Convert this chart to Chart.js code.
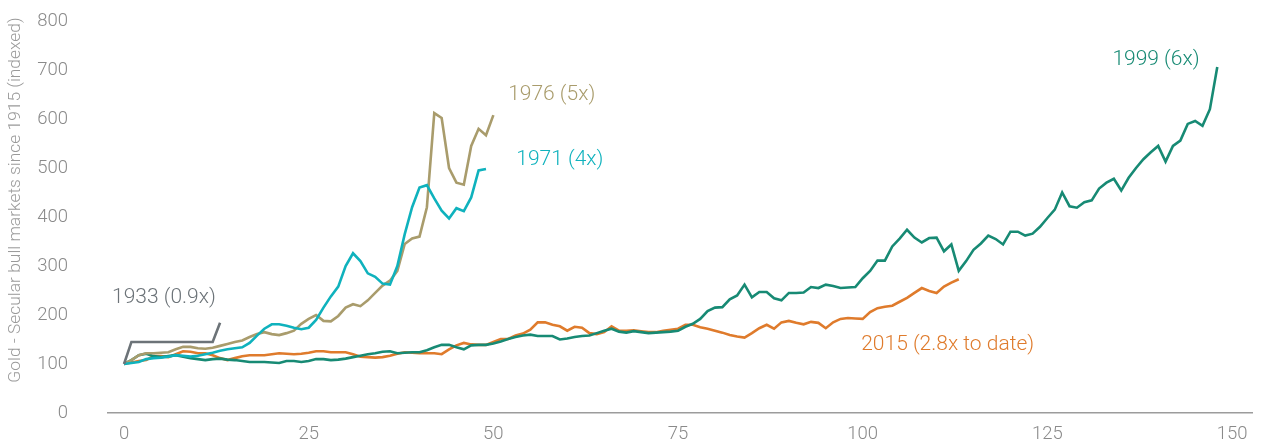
<!DOCTYPE html>
<html>
<head>
<meta charset="utf-8">
<script src="https://cdn.jsdelivr.net/npm/chart.js@4/dist/chart.umd.min.js"></script>
<style>
  html, body { margin: 0; padding: 0; background: #fff; }
  #wrap { width: 1272px; height: 444px; }
</style>
</head>
<body>
<div id="wrap"><canvas id="chart"></canvas></div>
<script>
// months since start of each secular bull market, gold indexed to 100
const bull1933 = [100, 145, 145, 145, 145, 145, 145, 145, 145, 145, 145, 145, 145, 184];

const bull1971 = [
  100, 102, 104, 110, 112, 113, 115, 118, 117, 115,
  117, 120, 123, 127, 130, 132, 134, 143, 158, 172,
  181, 181, 178, 174, 171, 174, 190, 215, 238, 258,
  300, 326, 310, 285, 278, 264, 262, 300, 365, 420,
  460, 465, 438, 413, 397, 418, 412, 440, 495, 498
];

const bull1976 = [
  100, 108, 118, 122, 122, 123, 124, 130, 135, 135,
  132, 131, 133, 137, 141, 145, 148, 155, 161, 165,
  161, 159, 163, 168, 182, 192, 200, 188, 187, 198,
  215, 222, 218, 230, 245, 260, 270, 290, 345, 356,
  360, 420, 612, 602, 500, 470, 466, 545, 580, 567,
  608
];

const bull1999 = [
  100, 108, 118, 121, 116, 114, 116, 118, 115, 112,
  110, 108, 110, 111, 109, 108, 106, 104, 104, 104,
  103, 102, 106, 106, 104, 106, 110, 110, 108, 109,
  111, 114, 117, 120, 122, 125, 126, 122, 123, 124,
  124, 128, 134, 139, 139, 134, 130, 138, 139, 139,
  142, 146, 151, 155, 158, 160, 157, 157, 157, 150,
  152, 155, 157, 158, 163, 168, 172, 166, 164, 167,
  165, 163, 164, 165, 166, 168, 176, 182, 192, 208,
  215, 216, 232, 240, 262, 236, 247, 247, 234, 230,
  245, 245, 246, 257, 255, 262, 259, 255, 256, 257,
  275, 290, 311, 311, 340, 356, 374, 358, 348, 357,
  358, 330, 344, 290, 310, 333, 346, 362, 355, 344,
  370, 370, 362, 366, 380, 398, 415, 450, 422, 419,
  430, 434, 458, 470, 478, 454, 480, 500, 518, 532,
  545, 513, 545, 556, 590, 596, 586, 620, 706
];

const bull2015 = [
  100, 103, 106, 108, 116, 116, 114, 120, 126, 125,
  122, 122, 118, 112, 108, 112, 116, 118, 118, 118,
  120, 122, 121, 120, 121, 123, 126, 126, 124, 124,
  124, 120, 115, 114, 113, 114, 117, 121, 124, 123,
  122, 122, 122, 120, 130, 138, 143, 140, 139, 139,
  145, 151, 151, 158, 162, 170, 185, 185, 180, 177,
  168, 176, 174, 163, 161, 165, 177, 168, 168, 169,
  167, 165, 165, 168, 170, 172, 180, 180, 175, 172,
  168, 164, 159, 156, 154, 163, 173, 180, 172, 185,
  188, 184, 181, 186, 184, 173, 185, 192, 194, 193,
  192, 206, 214, 217, 219, 227, 235, 245, 255, 249,
  245, 258, 266, 273
];

const xTicks = [0, 25, 50, 75, 100, 125, 150];
const yTicks = [0, 100, 200, 300, 400, 500, 600, 700, 800];
const yTitle = "Gold - Secular bull markets since 1915 (indexed)";

const seriesNames = ["1933 (0.9x)", "1971 (4x)", "1976 (5x)", "1999 (6x)", "2015 (2.8x to date)"];
const seriesColors = ["#6c7378", "#0fb2bd", "#a99c6c", "#178a74", "#df7b2c"];
const seriesValues = [bull1933, bull1971, bull1976, bull1999, bull2015];

// label anchors in data units (month, index)
const labelAnchors = [
  { x: 5.4, y: 235 },
  { x: 59, y: 516 },
  { x: 57.9, y: 649 },
  { x: 139.7, y: 720 },
  { x: 111.5, y: 139 }
];

const FONT = "Roboto, 'Liberation Sans', sans-serif";

const toPoints = (arr) => arr.map((v, i) => ({ x: i, y: v }));

const seriesLabels = {
  id: "seriesLabels",
  afterDatasetsDraw(chart) {
    const { ctx, scales, chartArea } = chart;
    ctx.save();
    ctx.font = "300 21px " + FONT;
    ctx.textAlign = "center";
    ctx.textBaseline = "middle";
    seriesNames.forEach((name, i) => {
      ctx.fillStyle = seriesColors[i];
      ctx.fillText(
        name,
        scales.x.getPixelForValue(labelAnchors[i].x),
        scales.y.getPixelForValue(labelAnchors[i].y)
      );
    });

    // axis title, sits a little above the middle of the plot like the original
    ctx.translate(15.5, (chartArea.top + chartArea.bottom) / 2 - 17);
    ctx.rotate(-Math.PI / 2);
    ctx.font = "300 17.4px " + FONT;
    ctx.fillStyle = "#9a9a9a";
    ctx.fillText(yTitle, 0, 0);
    ctx.restore();
  }
};

new Chart(document.getElementById("chart"), {
  type: "line",
  data: {
    datasets: seriesValues.map((vals, i) => ({
      label: seriesNames[i],
      data: toPoints(vals),
      borderColor: seriesColors[i],
      borderWidth: 2.6,
      pointRadius: 0,
      tension: 0,
      fill: false
    }))
  },
  options: {
    responsive: true,
    maintainAspectRatio: false,
    animation: false,
    layout: { padding: { top: 21, right: 20, left: 0, bottom: 0 } },
    plugins: {
      legend: { display: false },
      tooltip: { enabled: false }
    },
    scales: {
      x: {
        type: "linear",
        min: -2.17,
        max: 152.7,
        afterBuildTicks: (scale) => {
          scale.ticks = xTicks.map((v) => ({ value: v }));
        },
        // chart.js counts the tick padding twice in the height
        afterFit: (scale) => {
          scale.height = 31;
        },
        grid: { display: false, drawTicks: false },
        border: { display: true, color: "#9c9c9c", width: 1.6 },
        ticks: {
          padding: 12.5,
          color: "#8a8a8a",
          font: { family: FONT, size: 18.5, weight: "300", lineHeight: 1 },
          maxRotation: 0
        }
      },
      y: {
        min: 0,
        max: 800,
        afterBuildTicks: (scale) => {
          scale.ticks = yTicks.map((v) => ({ value: v }));
        },
        afterFit: (scale) => {
          scale.width = 108;
        },
        // ticks hidden, their length only pushes the labels away from the plot
        grid: { display: false, drawTicks: true, tickLength: 38 },
        border: { display: false },
        ticks: {
          padding: 2,
          color: "#8a8a8a",
          font: { family: FONT, size: 18.5, weight: "300" }
        }
      }
    }
  },
  plugins: [seriesLabels]
});
</script>
</body>
</html>
